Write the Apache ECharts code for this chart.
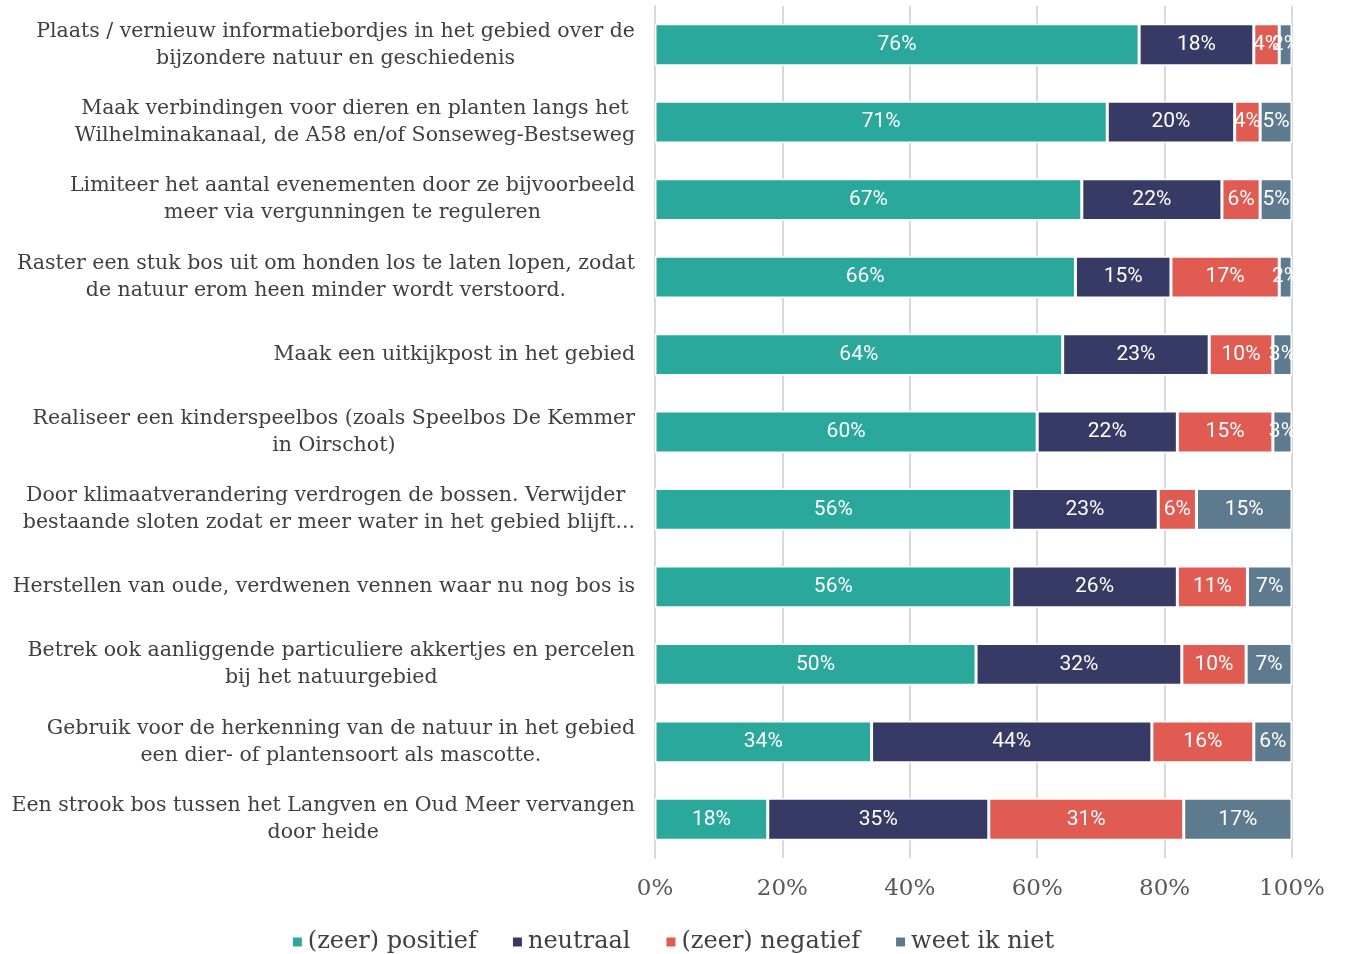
<!DOCTYPE html>
<html>
  <head>
    <meta charset="utf-8" />
    <title>Maatregelen</title>
    <script src="https://cdn.jsdelivr.net/npm/echarts@6/dist/echarts.min.js"></script>
    <style>
      body { margin: 0; background: #fff; }
    </style>
  </head>
  <body>
    <div id="main" style="width: 1345px; height: 954px"></div>
    <script type="text/javascript">
      // categories, top to bottom
      const categories = [
        'Plaats / vernieuw informatiebordjes in het gebied over de\nbijzondere natuur en geschiedenis',
        'Maak verbindingen voor dieren en planten langs het\nWilhelminakanaal, de A58 en/of Sonseweg-Bestseweg',
        'Limiteer het aantal evenementen door ze bijvoorbeeld\nmeer via vergunningen te reguleren',
        'Raster een stuk bos uit om honden los te laten lopen, zodat\nde natuur erom heen minder wordt verstoord.',
        'Maak een uitkijkpost in het gebied',
        'Realiseer een kinderspeelbos (zoals Speelbos De Kemmer\nin Oirschot)',
        'Door klimaatverandering verdrogen de bossen. Verwijder\n bestaande sloten zodat er meer water in het gebied blijft...',
        'Herstellen van oude, verdwenen vennen waar nu nog bos is',
        'Betrek ook aanliggende particuliere akkertjes en percelen\nbij het natuurgebied',
        'Gebruik voor de herkenning van de natuur in het gebied\neen dier- of plantensoort als mascotte.',
        'Een strook bos tussen het Langven en Oud Meer vervangen\ndoor heide'
      ];
      const seriesNames = ['(zeer) positief', 'neutraal', '(zeer) negatief', 'weet ik niet'];
      const positief = [76, 71, 67, 66, 64, 60, 56, 56, 50.4, 34, 17.7];
      const neutraal = [18, 20, 22, 15, 23, 22, 23, 26, 32.3, 44, 34.7];
      const negatief = [4, 4, 6, 17, 10, 15, 6, 11, 10.1, 16, 30.6];
      const weetNiet = [2, 5, 5, 2, 3, 3, 15, 7, 7.2, 6, 17];
      const xTicks = [0, 20, 40, 60, 80, 100];

      const colors = ['#2ba89c', '#373a64', '#e05c52', '#5e7a8f'];
      const serif = 'DejaVu Serif';

      var chartDom = document.getElementById('main');
      var myChart = echarts.init(chartDom);

      function makeSeries(name, data, color) {
        return {
          name: name,
          type: 'bar',
          stack: 'total',
          barCategoryGap: '46%',
          itemStyle: { color: color, borderColor: '#fff', borderWidth: 1.5 },
          label: {
            show: true,
            position: 'inside',
            color: '#fff',
            fontFamily: 'Roboto',
            fontSize: 21,
            overflow: 'none',
            formatter: function (p) { return Math.round(p.value) + '%'; }
          },
          data: data
        };
      }

      var option = {
        animation: false,
        backgroundColor: '#fff',
        grid: { left: 655, right: 53, top: 6, bottom: 96 },
        xAxis: {
          type: 'value',
          min: 0,
          max: 100,
          interval: 20,
          axisLine: { show: false },
          axisTick: { show: false },
          splitLine: { show: true, lineStyle: { color: '#d9d9d9', width: 2 } },
          axisLabel: {
            margin: 20,
            color: '#595959',
            fontFamily: serif,
            fontSize: 23,
            formatter: function (v) { return xTicks.indexOf(v) >= 0 ? v + '%' : ''; }
          }
        },
        yAxis: {
          type: 'category',
          inverse: true,
          data: categories,
          axisLine: { show: true, lineStyle: { color: '#d9d9d9', width: 2 } },
          axisTick: { show: false },
          axisLabel: {
            margin: 20,
            color: '#404040',
            fontFamily: serif,
            fontSize: 20.5,
            lineHeight: 27,
            formatter: function (v) {
              return v.split('\n').map(function (l) { return '{c|' + l + '}'; }).join('\n');
            },
            rich: {
              c: { align: 'center', color: '#404040', fontFamily: serif, fontSize: 20.5, lineHeight: 27 }
            }
          }
        },
        legend: {
          left: 'center',
          top: 925,
          icon: 'rect',
          itemWidth: 11,
          itemHeight: 11,
          itemGap: 34,
          textStyle: { color: '#404040', fontFamily: serif, fontSize: 24 },
          data: seriesNames
        },
        series: [
          makeSeries(seriesNames[0], positief, colors[0]),
          makeSeries(seriesNames[1], neutraal, colors[1]),
          makeSeries(seriesNames[2], negatief, colors[2]),
          makeSeries(seriesNames[3], weetNiet, colors[3])
        ]
      };

      option && myChart.setOption(option);
    </script>
  </body>
</html>
